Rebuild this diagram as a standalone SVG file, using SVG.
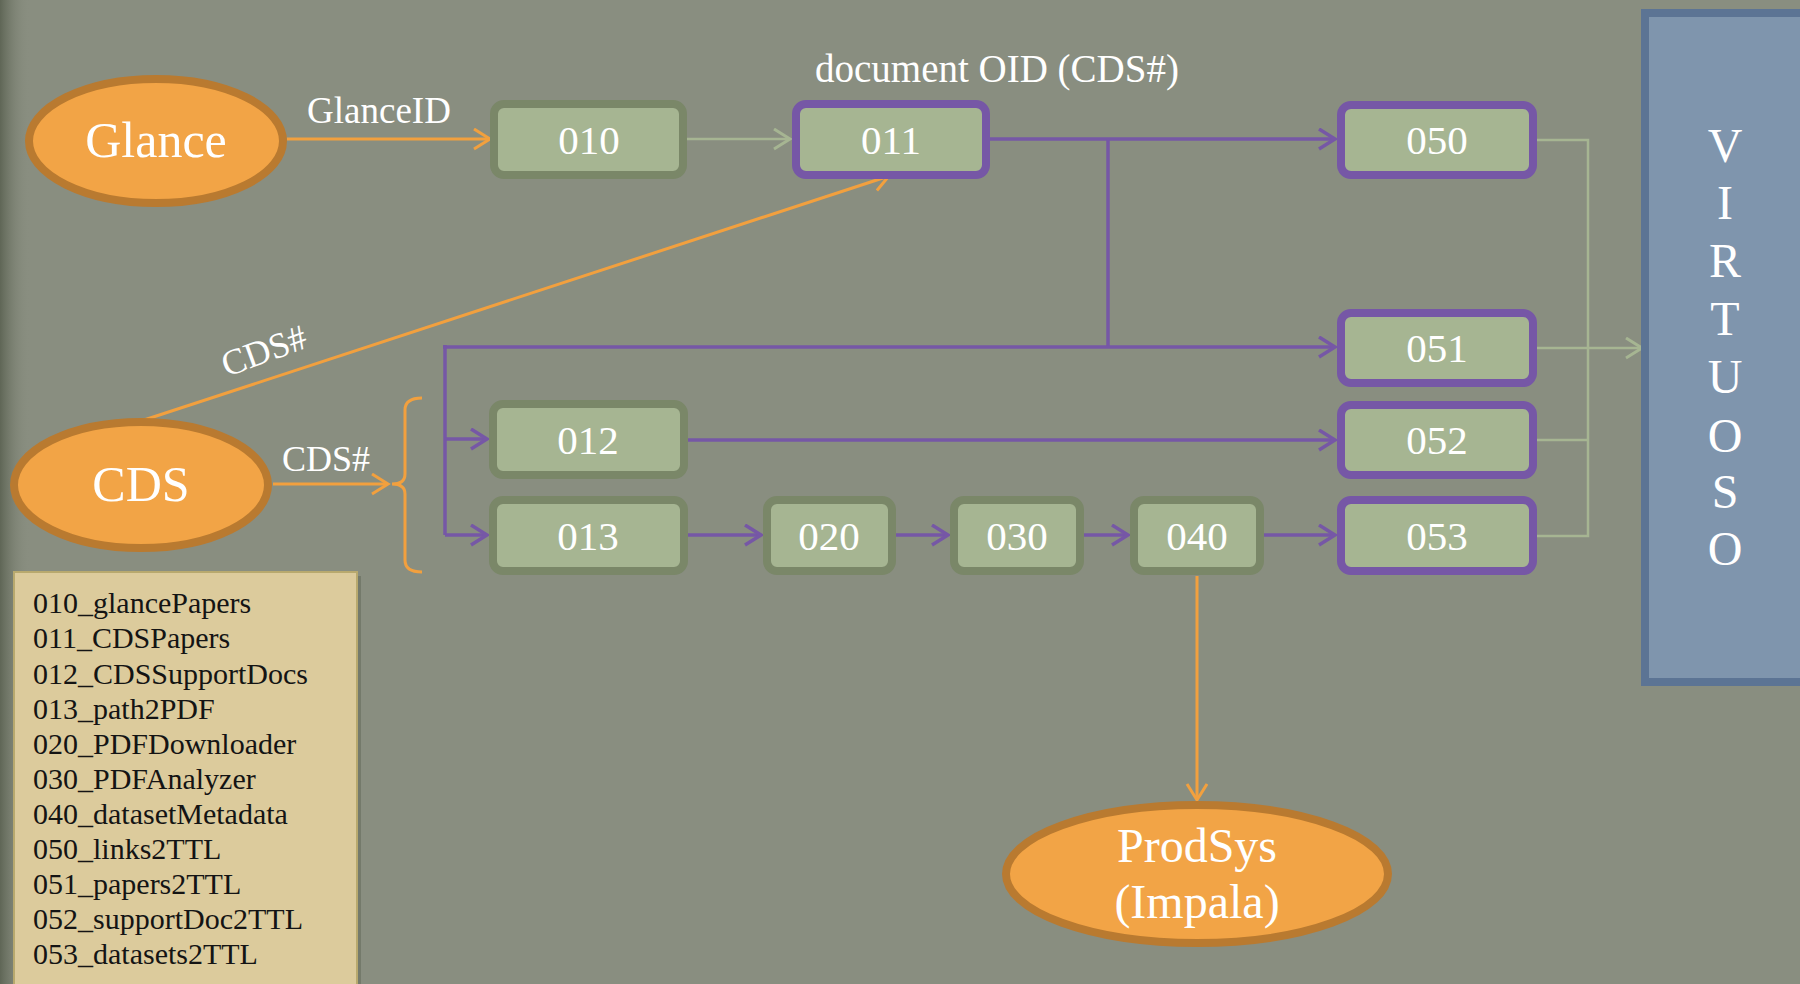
<svg xmlns="http://www.w3.org/2000/svg" width="1800" height="984" viewBox="0 0 1800 984">
<defs>
<linearGradient id="edge" x1="0" y1="0" x2="1" y2="0">
<stop offset="0" stop-color="#5f6656"/>
<stop offset="1" stop-color="#898e80" stop-opacity="0"/>
</linearGradient>
<marker id="aO" markerUnits="userSpaceOnUse" markerWidth="22" markerHeight="24" refX="17" refY="11" orient="auto"><path d="M1,1 L17,11 L1,21" fill="none" stroke="#f2a03e" stroke-width="3"/></marker>
<marker id="aP" markerUnits="userSpaceOnUse" markerWidth="22" markerHeight="24" refX="17" refY="11" orient="auto"><path d="M1,1 L17,11 L1,21" fill="none" stroke="#7657a6" stroke-width="3.5"/></marker>
<marker id="aG" markerUnits="userSpaceOnUse" markerWidth="22" markerHeight="24" refX="17" refY="11" orient="auto"><path d="M1,1 L17,11 L1,21" fill="none" stroke="#a6b592" stroke-width="3"/></marker>
</defs>
<style>
.lbl{font-family:"Liberation Serif","DejaVu Serif",serif;fill:#ffffff}
.ell{fill:#f2a446;stroke:#b97a30;stroke-width:8}
.box{fill:#a6b592;stroke:#7a8768;stroke-width:8}
.pbox{fill:#a6b592;stroke:#7657a6;stroke-width:8}
.num{font-family:"Liberation Serif","DejaVu Serif",serif;font-size:41px;fill:#ffffff;text-anchor:middle}
.or{fill:none;stroke:#f2a03e;stroke-width:3}
.pu{fill:none;stroke:#7657a6;stroke-width:3.5}
.gr{fill:none;stroke:#a6b592;stroke-width:2.5}
.leg{font-family:"Liberation Serif","DejaVu Serif",serif;font-size:30px;fill:#141414}
</style>
<rect x="0" y="0" width="1800" height="984" fill="#898e80"/>
<rect x="0" y="0" width="30" height="984" fill="url(#edge)"/>

<g id="connectors">
<line class="or" x1="287" y1="139" x2="490" y2="139" marker-end="url(#aO)"/>
<line class="gr" x1="687" y1="139" x2="790" y2="139" marker-end="url(#aG)"/>
<line class="or" x1="141" y1="421" x2="889" y2="176" marker-end="url(#aO)"/>
<line class="or" x1="273" y1="484" x2="388" y2="484" marker-end="url(#aO)"/>
<path class="or" d="M422,398 Q405,398 405,410 L405,474 Q405,484 392,484 Q405,484 405,494 L405,560 Q405,572 422,572"/>
<line class="pu" x1="990" y1="139" x2="1335" y2="139" marker-end="url(#aP)"/>
<line class="pu" x1="1108" y1="139" x2="1108" y2="347"/>
<line class="pu" x1="443" y1="347" x2="1108" y2="347" stroke-width="4.5"/>
<line class="pu" x1="1108" y1="347" x2="1335" y2="347" marker-end="url(#aP)"/>
<line class="pu" x1="445" y1="345" x2="445" y2="535"/>
<line class="pu" x1="445" y1="439" x2="487" y2="439" marker-end="url(#aP)"/>
<line class="pu" x1="445" y1="535" x2="487" y2="535" marker-end="url(#aP)"/>
<line class="pu" x1="688" y1="440" x2="1335" y2="440" marker-end="url(#aP)"/>
<line class="pu" x1="688" y1="535" x2="761" y2="535" marker-end="url(#aP)"/>
<line class="pu" x1="896" y1="535" x2="948" y2="535" marker-end="url(#aP)"/>
<line class="pu" x1="1084" y1="535" x2="1128" y2="535" marker-end="url(#aP)"/>
<line class="pu" x1="1264" y1="535" x2="1335" y2="535" marker-end="url(#aP)"/>
<line class="or" x1="1197" y1="576" x2="1197" y2="800" marker-end="url(#aO)"/>
<path class="gr" d="M1537,140 L1588,140 L1588,536 L1537,536 M1537,440 L1588,440"/>
<line class="gr" x1="1537" y1="348" x2="1642" y2="348" marker-end="url(#aG)"/>
<text class="lbl" x="379" y="123" font-size="37" text-anchor="middle">GlanceID</text>
<text class="lbl" x="997" y="82" font-size="39" text-anchor="middle">document OID (CDS#)</text>
<text class="lbl" x="326" y="471" font-size="36" text-anchor="middle">CDS#</text>
<text class="lbl" x="0" y="0" font-size="36" text-anchor="middle" transform="translate(268,362) rotate(-20)">CDS#</text>
</g>

<g id="glance"><ellipse class="ell" cx="156" cy="141" rx="127" ry="62"/><text class="lbl" x="156" y="157" font-size="50" text-anchor="middle">Glance</text></g>
<g id="cds"><ellipse class="ell" cx="141" cy="485" rx="127" ry="63"/><text class="lbl" x="141" y="501" font-size="50" text-anchor="middle">CDS</text></g>
<g id="prodsys"><ellipse class="ell" cx="1197" cy="874" rx="191" ry="69"/><text class="lbl" x="1197" y="862" font-size="48" text-anchor="middle">ProdSys</text><text class="lbl" x="1197" y="918" font-size="48" text-anchor="middle">(Impala)</text></g>

<g id="n010"><rect class="box" x="494" y="104" width="189" height="71" rx="10"/><text class="num" x="589" y="154">010</text></g>
<g id="n011"><rect class="pbox" x="796" y="104" width="190" height="71" rx="10"/><text class="num" x="891" y="154">011</text></g>
<g id="n012"><rect class="box" x="493" y="404" width="191" height="71" rx="10"/><text class="num" x="588" y="454">012</text></g>
<g id="n013"><rect class="box" x="493" y="500" width="191" height="71" rx="10"/><text class="num" x="588" y="550">013</text></g>
<g id="n020"><rect class="box" x="767" y="500" width="125" height="71" rx="10"/><text class="num" x="829" y="550">020</text></g>
<g id="n030"><rect class="box" x="954" y="500" width="126" height="71" rx="10"/><text class="num" x="1017" y="550">030</text></g>
<g id="n040"><rect class="box" x="1134" y="500" width="126" height="71" rx="10"/><text class="num" x="1197" y="550">040</text></g>
<g id="n050"><rect class="pbox" x="1341" y="105" width="192" height="70" rx="10"/><text class="num" x="1437" y="154">050</text></g>
<g id="n051"><rect class="pbox" x="1341" y="313" width="192" height="70" rx="10"/><text class="num" x="1437" y="362">051</text></g>
<g id="n052"><rect class="pbox" x="1341" y="405" width="192" height="70" rx="10"/><text class="num" x="1437" y="454">052</text></g>
<g id="n053"><rect class="pbox" x="1341" y="500" width="192" height="71" rx="10"/><text class="num" x="1437" y="550">053</text></g>

<g id="virtuoso">
<rect x="1645" y="13" width="200" height="669" fill="#7f95ad" stroke="#5c7494" stroke-width="8"/>
<g class="lbl" font-size="48" text-anchor="middle">
<text x="1725" y="162">V</text><text x="1725" y="219">I</text><text x="1725" y="277">R</text><text x="1725" y="335">T</text><text x="1725" y="393">U</text><text x="1725" y="452">O</text><text x="1725" y="508">S</text><text x="1725" y="565">O</text>
</g>
</g>

<g id="legend">
<rect x="17" y="576" width="344" height="420" fill="#5f6656" opacity="0.5"/>
<rect x="14" y="572" width="343" height="420" fill="#dccb9c" stroke="#b8a96e" stroke-width="2"/>
<text class="leg" x="33" y="613">010_glancePapers</text>
<text class="leg" x="33" y="648">011_CDSPapers</text>
<text class="leg" x="33" y="684">012_CDSSupportDocs</text>
<text class="leg" x="33" y="719">013_path2PDF</text>
<text class="leg" x="33" y="754">020_PDFDownloader</text>
<text class="leg" x="33" y="789">030_PDFAnalyzer</text>
<text class="leg" x="33" y="824">040_datasetMetadata</text>
<text class="leg" x="33" y="859">050_links2TTL</text>
<text class="leg" x="33" y="894">051_papers2TTL</text>
<text class="leg" x="33" y="929">052_supportDoc2TTL</text>
<text class="leg" x="33" y="964">053_datasets2TTL</text>
</g>
</svg>
